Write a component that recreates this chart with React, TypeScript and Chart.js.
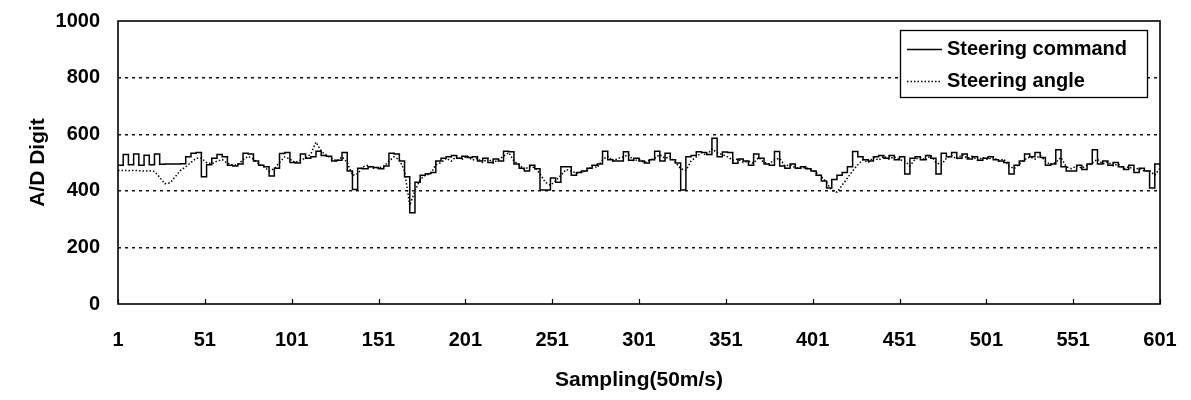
import React, { useEffect, useRef } from "react";
import { Chart, registerables } from "chart.js";

Chart.register(...registerables);

const SERIES_NAMES = ["Steering command", "Steering angle"];
const X_TITLE = "Sampling(50m/s)";
const Y_TITLE = "A/D Digit";
const X_TICKS = [1, 51, 101, 151, 201, 251, 301, 351, 401, 451, 501, 551, 601];
const Y_TICKS = [0, 200, 400, 600, 800, 1000];
const SAMPLE_STEP = 3;

const COMMAND = [
  490, 528, 492, 530, 490, 526, 492, 530, 494, 495,
  495, 495, 496, 520, 533, 535, 450, 492, 515, 528,
  520, 490, 488, 495, 533, 530, 505, 490, 485, 452,
  480, 532, 535, 500, 498, 530, 515, 520, 540, 525,
  522, 505, 508, 535, 470, 405, 480, 478, 485, 482,
  478, 488, 533, 530, 505, 450, 322, 430, 455, 460,
  465, 505, 515, 520, 525, 515, 522, 518, 520, 505,
  515, 500, 512, 505, 540, 538, 495, 480, 470, 490,
  478, 403, 403, 445, 430, 485, 485, 455, 465, 470,
  480, 490, 495, 540, 510, 505, 505, 538, 508, 515,
  505, 498, 510, 540, 505, 533, 510, 498, 403, 520,
  525, 538, 535, 528, 586, 520, 537, 535, 497, 512,
  505, 490, 530, 515, 495, 490, 539, 488, 480, 495,
  480, 485, 478, 470, 455, 435, 410, 440, 455, 465,
  485, 539, 520, 510, 505, 520, 525, 515, 525, 510,
  520, 459, 515, 520, 510, 525, 515, 459, 533, 520,
  535, 515, 530, 512, 520, 508, 515, 520, 510, 505,
  500, 459, 490, 505, 530, 520, 535, 518, 490, 495,
  545, 485, 470, 470, 490, 475, 495, 545, 495, 505,
  490, 500, 485, 475, 490, 465, 480, 470, 410, 495,
  488,
];

const ANGLE = [
  472, 472, 471, 472, 471, 470, 471, 468, 448, 425,
  428, 450, 472, 485, 500, 515, 515, 500, 495, 505,
  510, 498, 490, 492, 510, 522, 512, 495, 485, 470,
  478, 500, 520, 512, 500, 508, 515, 530, 572, 540,
  525, 515, 505, 520, 500, 455, 460, 485, 490, 480,
  482, 485, 505, 520, 510, 470, 348, 400, 440, 455,
  460, 492, 500, 515, 505, 522, 510, 524, 508, 515,
  500, 515, 498, 510, 522, 535, 505, 492, 475, 486,
  482, 460, 430, 420, 435, 455, 475, 470, 462, 468,
  470, 488, 482, 510, 522, 505, 515, 520, 528, 505,
  512, 500, 508, 515, 528, 515, 520, 500, 478, 472,
  505, 520, 535, 525, 548, 535, 528, 520, 508, 512,
  500, 505, 498, 518, 500, 495, 510, 515, 488, 492,
  482, 480, 482, 475, 465, 450, 430, 402, 395, 420,
  445, 470, 492, 510, 500, 518, 508, 522, 512, 520,
  510, 505, 488, 512, 518, 508, 525, 500, 492, 515,
  525, 512, 528, 515, 522, 508, 518, 510, 520, 505,
  512, 488, 478, 495, 510, 520, 512, 525, 505, 492,
  500, 518, 485, 478, 488, 480, 490, 498, 512, 495,
  502, 488, 495, 478, 485, 475, 480, 470, 472, 455,
  480,
];

const SAMPLES = COMMAND.map((_, i) => 1 + i * SAMPLE_STEP);

const FONT_FAMILY = "'Liberation Sans', Arial, sans-serif";

const zeroPadding = (scale: any) => {
  scale.paddingLeft = 0;
  scale.paddingRight = 0;
  scale.paddingTop = 0;
  scale.paddingBottom = 0;
};

const framePlugin = {
  id: "frameAndLegend",
  afterDatasetsDraw(chart: any) {
    const { ctx, chartArea } = chart;
    const { left, right, top, bottom } = chartArea;
    ctx.save();
    ctx.strokeStyle = "#000";
    ctx.lineWidth = 1.6;
    ctx.setLineDash([]);
    ctx.strokeRect(left, top, right - left, bottom - top);
    const xs = chart.scales.x;
    ctx.lineWidth = 1.2;
    X_TICKS.forEach((v) => {
      const px = Math.round(xs.getPixelForValue(v)) + 0.5;
      ctx.beginPath();
      ctx.moveTo(px, bottom);
      ctx.lineTo(px, bottom - 5);
      ctx.stroke();
    });
    const bx = 900, by = 30, bw = 247, bh = 67;
    ctx.fillStyle = "#fff";
    ctx.fillRect(bx, by, bw, bh);
    ctx.lineWidth = 1.3;
    ctx.strokeRect(bx + 0.5, by + 0.5, bw, bh);
    const rows = [49, 81];
    chart.data.datasets.forEach((ds: any, i: number) => {
      const y = rows[i] + 0.5;
      ctx.beginPath();
      ctx.lineWidth = 1.3;
      ctx.setLineDash(ds.borderDash || []);
      ctx.moveTo(907, y);
      ctx.lineTo(942, y);
      ctx.stroke();
      ctx.setLineDash([]);
      ctx.fillStyle = "#000";
      ctx.font = `bold 20px ${FONT_FAMILY}`;
      ctx.textBaseline = "middle";
      ctx.textAlign = "left";
      ctx.fillText(ds.label, 947, rows[i]);
    });
    ctx.restore();
  },
};

export default function App() {
  const ref = useRef<HTMLCanvasElement | null>(null);

  useEffect(() => {
    if (!ref.current) return;
    const chart = new Chart(ref.current, {
      type: "line",
      data: {
        labels: SAMPLES,
        datasets: [
          {
            label: SERIES_NAMES[0],
            data: SAMPLES.map((x, i) => ({ x, y: COMMAND[i] })),
            borderColor: "#000",
            borderWidth: 1.5,
            pointRadius: 0,
            stepped: true,
            fill: false,
          },
          {
            label: SERIES_NAMES[1],
            data: SAMPLES.map((x, i) => ({ x, y: ANGLE[i] })),
            borderColor: "#000",
            borderWidth: 1.5,
            borderDash: [1.5, 2],
            pointRadius: 0,
            tension: 0,
            fill: false,
          },
        ],
      },
      options: {
        responsive: false,
        animation: false,
        events: [],
        layout: { padding: { left: 0, right: 31, top: 21, bottom: 0 } },
        plugins: {
          legend: { display: false },
          tooltip: { enabled: false },
        },
        scales: {
          x: {
            type: "linear",
            min: 1,
            max: 601,
            afterBuildTicks: (scale: any) => {
              scale.ticks = X_TICKS.map((v) => ({ value: v }));
            },
            afterFit: (scale: any) => {
              scale.height = 96;
              zeroPadding(scale);
            },
            grid: { display: false, drawTicks: false },
            border: { display: false },
            ticks: {
              padding: 24,
              color: "#000",
              maxRotation: 0,
              autoSkip: false,
              callback: (v: any) => String(v),
              font: { family: FONT_FAMILY, size: 20, weight: "bold" },
            },
            title: {
              display: true,
              text: X_TITLE,
              color: "#000",
              padding: { top: 0, bottom: 7 },
              font: { family: FONT_FAMILY, size: 21, weight: "bold" },
            },
          },
          y: {
            min: 0,
            max: 1000,
            afterBuildTicks: (scale: any) => {
              scale.ticks = Y_TICKS.map((v) => ({ value: v }));
            },
            afterFit: (scale: any) => {
              scale.width = 118;
              zeroPadding(scale);
            },
            grid: {
              drawTicks: false,
              color: (c: any) =>
                c.tick && (c.tick.value === 0 || c.tick.value === 1000) ? "rgba(0,0,0,0)" : "#111",
              lineWidth: 1.4,
            },
            border: { display: false, dash: [3, 4] },
            ticks: {
              padding: 18,
              color: "#000",
              callback: (v: any) => String(v),
              font: { family: FONT_FAMILY, size: 20, weight: "bold" },
            },
            title: {
              display: true,
              text: Y_TITLE,
              color: "#000",
              padding: { top: 26, bottom: 0 },
              font: { family: FONT_FAMILY, size: 21, weight: "bold" },
            },
          },
        },
      },
      plugins: [framePlugin],
    } as any);
    return () => chart.destroy();
  }, []);

  return (
    <div style={{ position: "absolute", left: 0, top: 0, width: 1191, height: 400, background: "#fff" }}>
      <canvas ref={ref} width={1191} height={400} style={{ display: "block" }} />
    </div>
  );
}
